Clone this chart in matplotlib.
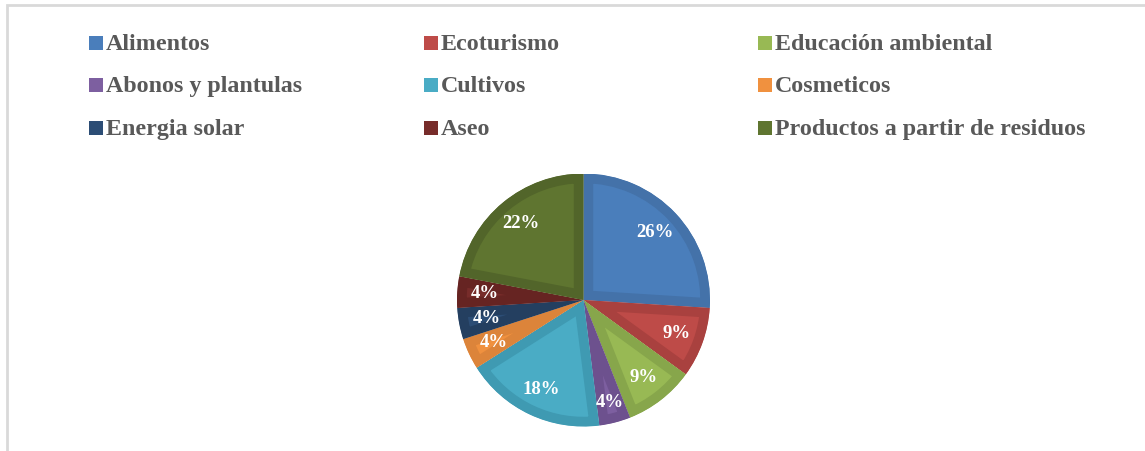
import matplotlib
matplotlib.use('Agg')
import matplotlib.pyplot as plt
from matplotlib.patches import Rectangle

# chart data
categories = ['Alimentos', 'Ecoturismo', 'Educación ambiental',
              'Abonos y plantulas', 'Cultivos', 'Cosmeticos',
              'Energia solar', 'Aseo', 'Productos a partir de residuos']
shares = [26, 9, 9, 4, 18, 4, 4, 4, 22]

fill_colors = ['#4a7ebb', '#be4b48', '#98b954', '#7d5fa0', '#4aacc5',
               '#f0913f', '#2c4d75', '#772c2a', '#5f7530']
edge_colors = ['#4472a9', '#a9413f', '#87a64b', '#6d518e', '#3f9ab2',
               '#dc843a', '#243f60', '#662422', '#52652a']

W, H = 1145, 451
fig = plt.figure(figsize=(W / 100, H / 100), dpi=100)
plt.rcParams['font.family'] = ['Liberation Serif', 'DejaVu Serif']

# light outer frame (right and bottom edges fall outside the picture)
fig.patches.append(Rectangle((7 / W, -0.1), 1.2, (H - 5) / H + 0.1,
                             transform=fig.transFigure, fill=False,
                             edgecolor='#d9d9d9', linewidth=2))

# legend, three equal columns laid out row by row
col_x = [89, 424, 758]
row_y = [43, 85, 128]
for i, name in enumerate(categories):
    x = col_x[i % 3]
    y = row_y[i // 3]
    fig.patches.append(Rectangle((x / W, (H - y - 7) / H), 13.5 / W, 14 / H,
                                 transform=fig.transFigure,
                                 facecolor=fill_colors[i], edgecolor='none'))
    fig.text((x + 17) / W, (H - y - 7) / H, name, fontsize=17.3,
             fontweight='bold', color='#595959', va='baseline', ha='left')

# pie
cx, cy, r = 583.5, 300, 126.5
ax = fig.add_axes([(cx - r) / W, (H - cy - r) / H, 2 * r / W, 2 * r / H])
wedges, texts, autotexts = ax.pie(
    shares, colors=fill_colors, startangle=90, counterclock=False,
    autopct='%1.0f%%', pctdistance=0.78,
    textprops=dict(color='white', fontsize=13.5, fontweight='bold'))
ax.set_xlim(-1, 1)
ax.set_ylim(-1, 1)
ax.set_aspect('equal')
ax.axis('off')

# the narrow purple slice has its label pushed a bit further out
px, py = autotexts[3].get_position()
autotexts[3].set_position((px * 0.84 / 0.78, py * 0.84 / 0.78))

# darker inner band on every slice: thick stroke clipped to the slice itself
for w, ec in zip(wedges, edge_colors):
    w.set_edgecolor(ec)
    w.set_linewidth(14)
    w.set_joinstyle('round')
    w.set_clip_on(True)
    w.set_clip_path(w.get_path(), ax.transData)

plt.savefig('out.png', dpi=100)
plt.close()
